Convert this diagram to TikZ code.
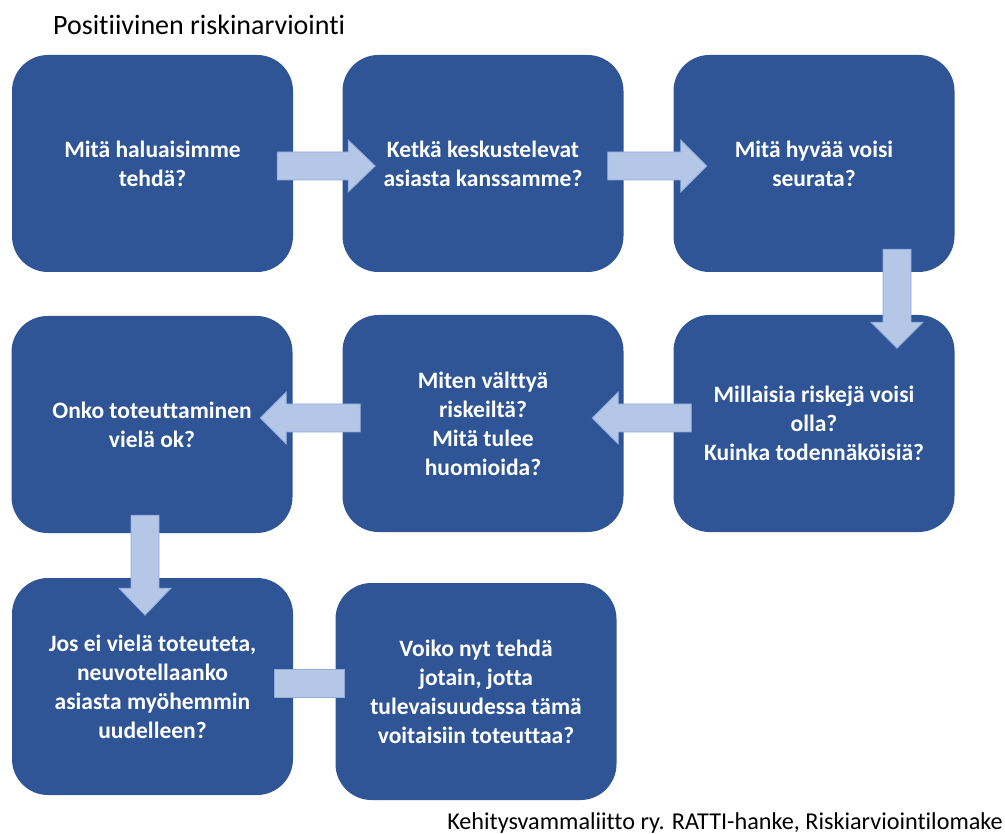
\documentclass[tikz,border=0pt]{standalone}
\usepackage{fontspec}
\setmainfont[RawFeature={-liga}]{Carlito}
\usetikzlibrary{calc}
\definecolor{boxblue}{HTML}{2F5597}
\definecolor{arrfill}{HTML}{B4C7E7}
\definecolor{arrline}{HTML}{8FAADC}
\tikzset{
  qbox/.style={rectangle, rounded corners=36pt, fill=boxblue, minimum width=281pt,
    minimum height=217pt, inner sep=0pt, text=white, align=center,
    font=\bfseries\fontsize{23.5}{29}\selectfont},
  blockarrow/.style={fill=arrfill, draw=arrline, line width=0.8pt},
  plaintext/.style={inner sep=0pt, text=black},
}
% #1 start coordinate, #2 angle, #3 stem length, #4 head length
\newcommand{\blockarr}[4]{%
  \path[blockarrow, shift={#1}, rotate=#2] (0,-14) -- (#3,-14) -- (#3,-26) --
    ({#3+#4},0) -- (#3,26) -- (#3,14) -- (0,14) -- cycle;
}
\begin{document}
\begin{tikzpicture}[x=1pt, y=-1pt]
\useasboundingbox (0,0) rectangle (1005,834);
\fill[white] (0,0) rectangle (1005,834);

\node[plaintext, anchor=base west, font=\fontsize{28}{34}\selectfont] (title) at (53,35) {Positiivinen riskinarviointi};

\node[qbox] (b1) at (152.5,163.5) {Mitä haluaisimme\\tehdä?};
\node[qbox] (b2) at (483,163.5) {Ketkä keskustelevat\\asiasta kanssamme?};
\node[qbox] (b3) at (814,163.5) {Mitä hyvää voisi\\seurata?};
\node[qbox] (b4) at (152,424.5) {Onko toteuttaminen\\vielä ok?};
\node[qbox] (b5) at (483,423.5) {Miten välttyä\\riskeiltä?\\Mitä tulee\\huomioida?};
\node[qbox] (b6) at (814,423.5) {Millaisia riskejä voisi\\olla?\\Kuinka todennäköisiä?};
\node[qbox] (b7) at (152.5,686.5) {Jos ei vielä toteuteta,\\neuvotellaanko\\asiasta myöhemmin\\uudelleen?};
\node[qbox] (b8) at (476,691.5) {Voiko nyt tehdä\\jotain, jotta\\tulevaisuudessa tämä\\voitaisiin toteuttaa?};

\coordinate (a1) at ($(b1.east)+(-16,2.5)$);
\coordinate (a2) at ($(b2.east)+(-16,2.5)$);
\coordinate (a3) at ($(b3.south)+(83,-23)$);
\coordinate (a4) at ($(b6.west)+(18,-5.5)$);
\coordinate (a5) at ($(b5.west)+(18,-5.5)$);
\coordinate (a6) at ($(b4.south)+(-7,-18)$);

\blockarr{(a1)}{0}{71}{27}
\blockarr{(a2)}{0}{73}{26}
\blockarr{(a3)}{-90}{73}{26}
\blockarr{(a4)}{180}{73}{26}
\blockarr{(a5)}{180}{74}{26}
\blockarr{(a6)}{-90}{73}{27}

\coordinate (c1) at ($(b7.east)+(-19,-17.5)$);
\coordinate (c2) at ($(b8.west)+(9,5.5)$);
\path[blockarrow] (c1) rectangle (c2);

\node[plaintext, anchor=base east, font=\fontsize{24.2}{29}\selectfont] (foot) at (1003,829.5) {Kehitysvammaliitto ry. RATTI-hanke, Riskiarviointilomake};
\end{tikzpicture}
\end{document}
